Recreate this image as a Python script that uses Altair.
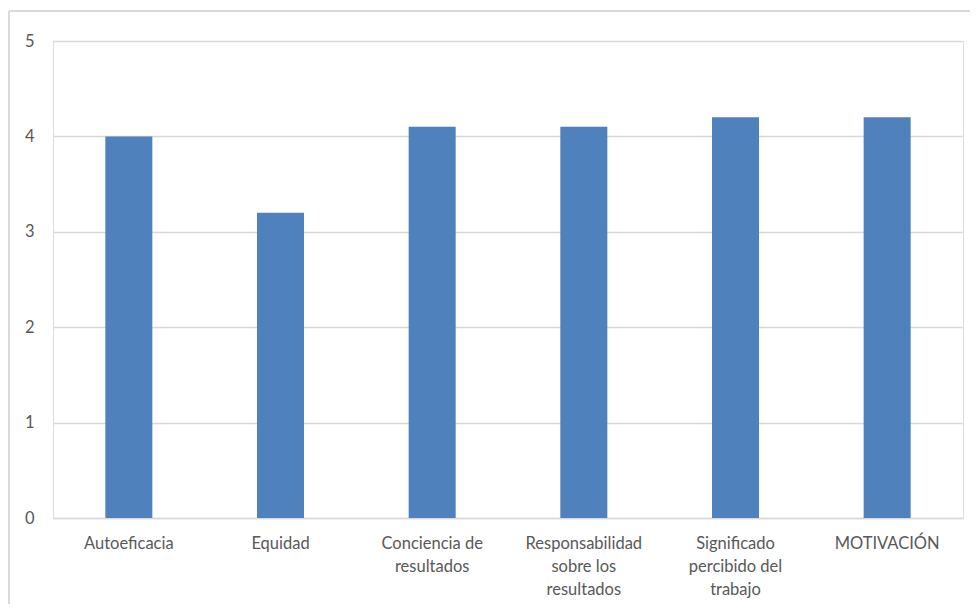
import altair as alt
import pandas as pd

categories = ["Autoeficacia", "Equidad", "Conciencia de resultados",
              "Responsabilidad sobre los resultados",
              "Significado percibido del trabajo", "MOTIVACIÓN"]
label_lines = [["Autoeficacia"], ["Equidad"], ["Conciencia de", "resultados"],
               ["Responsabilidad", "sobre los", "resultados"],
               ["Significado", "percibido del", "trabajo"], ["MOTIVACIÓN"]]
values = [4.0, 3.2, 4.1, 4.1, 4.2, 4.2]
y_ticks = [0, 1, 2, 3, 4, 5]

df = pd.DataFrame({"cat": categories, "val": values})

expr = "datum.label"
for cat, lines in reversed(list(zip(categories, label_lines))):
    arr = "[" + ",".join("'" + l + "'" for l in lines) + "]"
    expr = f"datum.label == '{cat}' ? {arr} : ({expr})"

FONT = "Lato"
TXT = "#595959"
GRID = "#d9d9d9"
FS = 16.5

bars = alt.Chart(df).mark_bar(color="#4f81bd").encode(
    x=alt.X("cat:N", sort=categories,
            scale=alt.Scale(paddingInner=0.69, paddingOuter=0.345),
            axis=alt.Axis(title=None, labelAngle=0, labelExpr=expr,
                          labelFont=FONT, labelFontSize=FS, labelColor=TXT,
                          labelBaseline="top", labelLineHeight=23,
                          labelPadding=17, ticks=False,
                          domainColor=GRID, domainWidth=1.5,
                          labelLimit=200)),
    y=alt.Y("val:Q", scale=alt.Scale(domain=[0, 5], nice=False),
            axis=alt.Axis(title=None, values=y_ticks, format="d",
                          labelFont=FONT, labelFontSize=FS, labelColor=TXT,
                          labelPadding=19, ticks=False, domain=False,
                          gridColor=GRID, gridWidth=1.5)),
)

border_top = alt.Chart(df).mark_rule(color=GRID, strokeWidth=1.5).encode(
    x=alt.value(-44), x2=alt.value(1000), y=alt.value(-30))
border_left = alt.Chart(df).mark_rule(color=GRID, strokeWidth=1.5).encode(
    x=alt.value(-44), y=alt.value(-30), y2=alt.value(700))

chart = alt.layer(border_top, border_left, bars).properties(
    width=910, height=477,
    autosize=alt.AutoSizeParams(type="none"),
    padding={"left": 45, "top": 33, "right": 7, "bottom": 86},
).configure_view(stroke=None).configure(background="white")

chart.save("out.html", embed_options={"renderer": "svg", "actions": False})
